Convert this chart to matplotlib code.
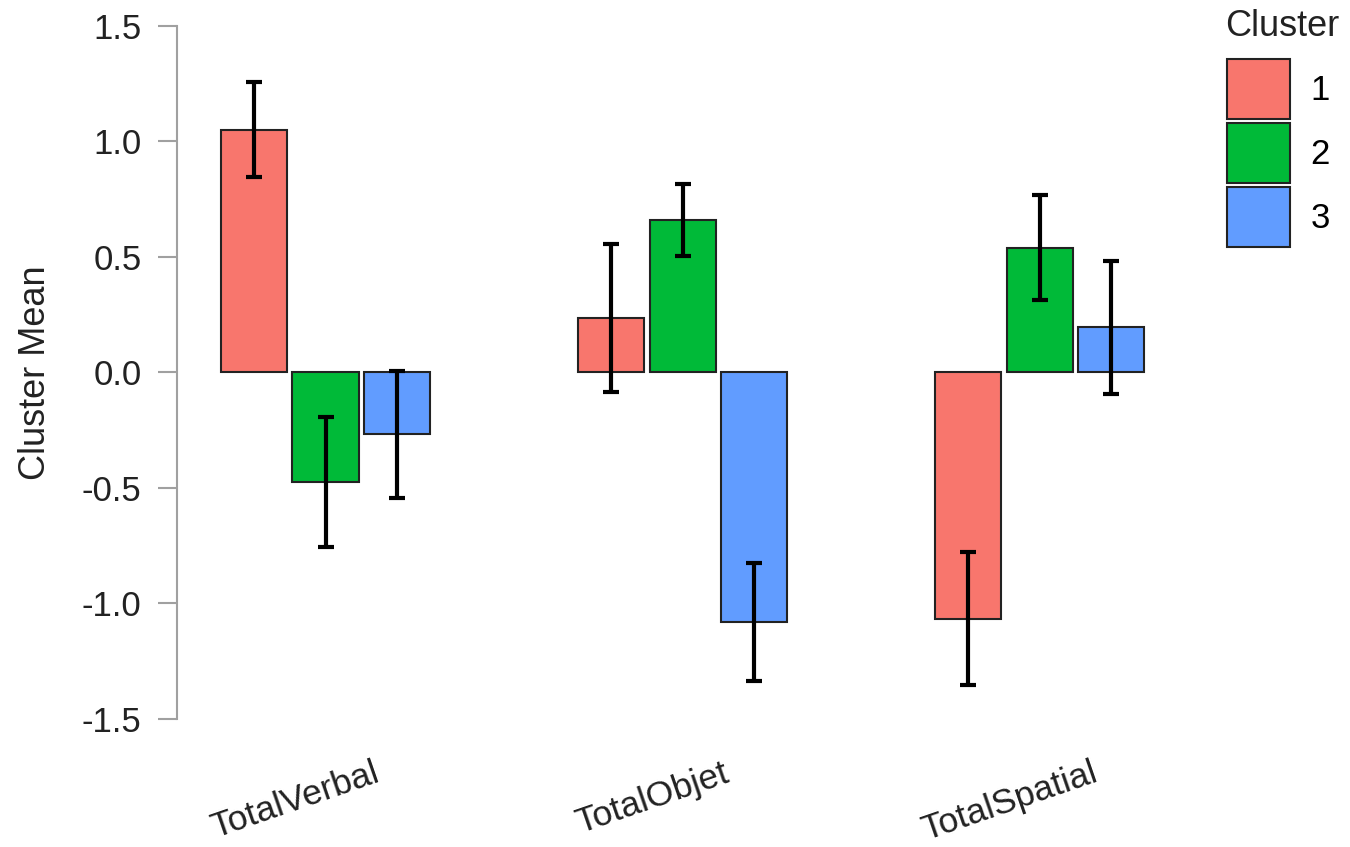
import numpy as np
import matplotlib.pyplot as plt
from matplotlib.patches import Patch
from matplotlib.transforms import ScaledTranslation

plt.rcParams['font.family'] = ['Liberation Sans', 'DejaVu Sans']

# cluster means and half-width of the error bars per variable
variables = ["TotalVerbal", "TotalObjet", "TotalSpatial"]
clusters = ["1", "2", "3"]
means_c1 = [1.050, 0.235, -1.066]
means_c2 = [-0.474, 0.658, 0.539]
means_c3 = [-0.268, -1.081, 0.195]
err_c1 = [0.205, 0.322, 0.288]
err_c2 = [0.281, 0.155, 0.227]
err_c3 = [0.274, 0.254, 0.287]

colors = ["#F8766D", "#00BA38", "#619CFF"]
means = [means_c1, means_c2, means_c3]
errs = [err_c1, err_c2, err_c3]

fig = plt.figure(figsize=(13.5, 8.47), dpi=100)
ax = fig.add_axes([0.1311, 0.1511, 0.874 - 0.1311, 0.9697 - 0.1511])

x = np.arange(len(variables))
width = 0.185
step = 0.2
for i in range(3):
    pos = x + (i - 1) * step
    ax.bar(pos, means[i], width=width, color=colors[i], edgecolor="#222222",
           linewidth=1.5, zorder=2)
    ax.errorbar(pos, means[i], yerr=errs[i], fmt="none", ecolor="black",
                elinewidth=3, capsize=5.5, capthick=3, zorder=3)

ax.set_xlim(-0.416, 2.393)
ax.set_ylim(-1.5, 1.5)
ax.set_yticks([-1.5, -1.0, -0.5, 0.0, 0.5, 1.0, 1.5])
ax.set_yticklabels(["-1.5", "-1.0", "-0.5", "0.0", "0.5", "1.0", "1.5"])
ax.set_xticks(x)
ax.set_xticklabels(variables, rotation=19, ha="center")

for s in ["top", "right", "bottom"]:
    ax.spines[s].set_visible(False)
ax.spines["left"].set_color("#a0a0a0")
ax.spines["left"].set_linewidth(1.5)

ax.tick_params(axis="y", length=13.5, width=1.5, color="#a0a0a0",
               labelsize=25, pad=12, labelcolor="#222222")
ax.tick_params(axis="x", length=0, labelsize=25.5, pad=27, labelcolor="#222222")
shift = ScaledTranslation(-30 / 100, 0, fig.dpi_scale_trans)
for lab in ax.get_xticklabels():
    lab.set_transform(lab.get_transform() + shift)

ax.set_ylabel("Cluster Mean", fontsize=26, color="#222222", labelpad=21)

# legend: title drawn separately so it can sit higher above the keys
fig.text(1225 / 1350, 1 - 36 / 847, "Cluster", fontsize=26, color="#222222",
         ha="left", va="baseline")
handles = [Patch(facecolor=c, edgecolor="#222222", linewidth=1.5) for c in colors]
leg = fig.legend(handles, clusters, loc="upper left",
                 bbox_to_anchor=(1227 / 1350, 1 - 59 / 847), frameon=False,
                 fontsize=25, handlelength=1.8, handleheight=2.28,
                 labelspacing=0.12, handletextpad=0.6, borderpad=0,
                 borderaxespad=0)

fig.savefig("out.png", dpi=100)
